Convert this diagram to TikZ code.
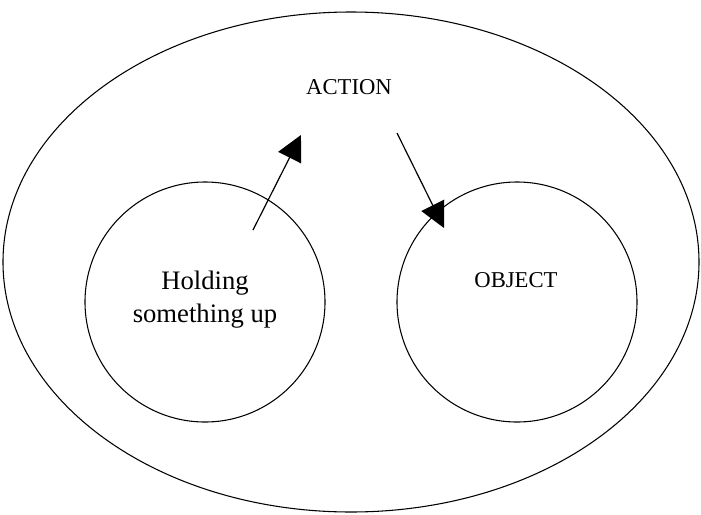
\documentclass[tikz,border=0pt]{standalone}
\usepackage{fontspec}
\setmainfont{Liberation Serif}
\usetikzlibrary{arrows.meta,positioning,shapes.geometric}

\begin{document}
\begin{tikzpicture}[x=0.75pt, y=-0.75pt, >={Triangle[length=19pt,width=19pt]},
	   font=\fontsize{17}{25}\selectfont,
	   ring/.style={draw, circle, line width=0.8pt, minimum size=180pt, inner sep=0pt},
	   lbl/.style={inner sep=0pt, align=center}]
	  \useasboundingbox (0,0) rectangle (701,515);
	  \node[draw, ellipse, line width=0.8pt, minimum width=522pt, minimum height=375pt, inner sep=0pt] (world) at (351,262) {};
	  \node[ring] (hold) at (205,302) {};
	  \node[ring] (obj) at (517,302) {};
	  \node[lbl] (act) at (349,87) {ACTION};
	  \node[lbl, font=\fontsize{20}{24.75}\selectfont] (holdtxt) at (205,300) {Holding\\something up};
	  \node[lbl] (objtxt) at (516,280) {OBJECT};
	  \coordinate (up0) at (253,230); \coordinate (up1) at (301,135);
	  \coordinate (dn0) at (397,133); \coordinate (dn1) at (444,228);
	  \draw[->, line width=0.9pt] (up0)--(up1); \draw[->, line width=0.9pt] (dn0)--(dn1);
	\end{tikzpicture}
\end{document}
